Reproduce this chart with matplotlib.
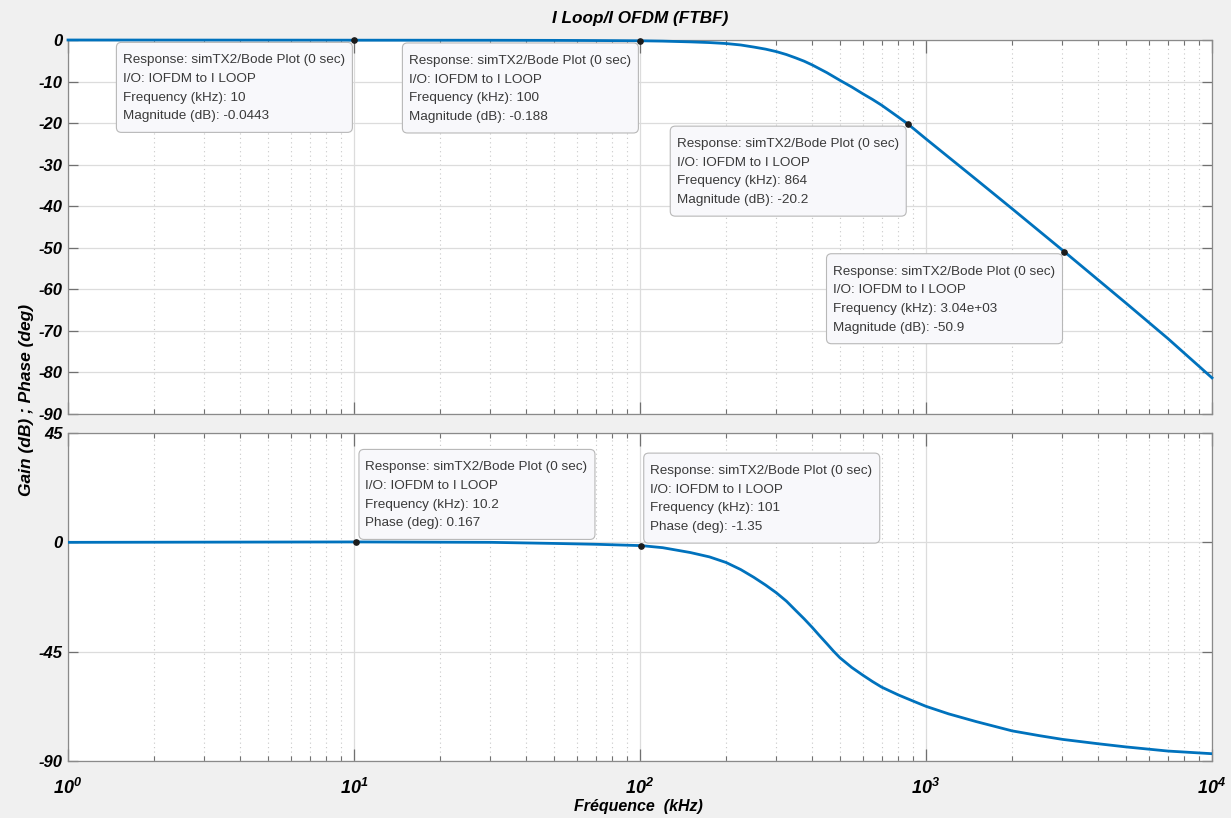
import matplotlib
matplotlib.use('Agg')
import matplotlib.pyplot as plt
import matplotlib.transforms as mtransforms
from matplotlib.patches import FancyBboxPatch
from matplotlib.ticker import LogLocator, NullFormatter, FixedLocator

plt.rcParams['font.family'] = ['Liberation Sans', 'DejaVu Sans']
plt.rcParams['mathtext.fontset'] = 'custom'
plt.rcParams['mathtext.rm'] = 'Liberation Sans:bold:italic'
plt.rcParams['mathtext.it'] = 'Liberation Sans:bold:italic'
plt.rcParams['mathtext.bf'] = 'Liberation Sans:bold:italic'

# magnitude curve (kHz, dB)
freq_mag = [1, 10, 30, 50, 70, 100, 120, 150, 175, 200, 225, 250, 275, 300, 325,
            350, 375, 400, 450, 500, 550, 600, 650, 700, 780, 864, 1000, 1500,
            2000, 3040, 5000, 7000, 10000]
mag_db = [0, -0.044, -0.06, -0.09, -0.13, -0.19, -0.27, -0.45, -0.62, -0.85,
          -1.2, -1.7, -2.2, -2.8, -3.5, -4.3, -5.1, -6.0, -7.85, -9.7, -11.3,
          -12.9, -14.3, -15.7, -18.0, -20.2, -23.8, -33.6, -40.6, -50.9, -63.3,
          -71.8, -81.3]

# phase curve (kHz, deg)
freq_ph = [1, 10.2, 30, 50, 70, 101, 120, 150, 175, 200, 225, 250, 275, 300,
           325, 350, 375, 400, 425, 450, 475, 500, 550, 600, 650, 700, 800, 900,
           1000, 1200, 1500, 2000, 2500, 3000, 4000, 5000, 7000, 10000]
phase_deg = [0, 0.167, 0.0, -0.45, -0.8, -1.35, -2.2, -4.2, -6.0, -8.3, -11.2,
             -14.4, -17.6, -20.8, -24.2, -28, -31.5, -35, -38.5, -41.7, -44.8,
             -47.5, -51.5, -54.6, -57.3, -59.6, -62.8, -65.3, -67.5, -70.6, -73.8,
             -77.6, -79.6, -81.1, -82.9, -84.2, -85.9, -87.0]

# data tips
mag_tip_f = [10, 100, 864, 3040]
mag_tip_db = [-0.0443, -0.188, -20.2, -50.9]
ph_tip_f = [10.2, 101]
ph_tip_deg = [0.167, -1.35]

mag_yticks = [0, -10, -20, -30, -40, -50, -60, -70, -80, -90]
ph_yticks = [45, 0, -45, -90]
xticks = [1, 10, 100, 1000, 10000]
xticklabels = [r'$10^{0}$', r'$10^{1}$', r'$10^{2}$', r'$10^{3}$', r'$10^{4}$']

blue = '#0072BD'
W, H = 1231, 818
fig = plt.figure(figsize=(W / 100, H / 100), dpi=100, facecolor='#f0f0f0')


def px_axes(left, top, right, bottom):
    return fig.add_axes([left / W, 1 - bottom / H, (right - left) / W, (bottom - top) / H])


ax1 = px_axes(68, 40, 1212, 414)
ax2 = px_axes(68, 433, 1212, 761)

tick_font = dict(fontsize=12, fontweight='bold', fontstyle='italic')

for ax in (ax1, ax2):
    ax.set_xscale('log')
    ax.set_xlim(1, 10000)
    ax.xaxis.set_major_locator(FixedLocator(xticks))
    ax.xaxis.set_minor_locator(LogLocator(base=10, subs=range(2, 10)))
    ax.xaxis.set_minor_formatter(NullFormatter())
    ax.grid(True, which='major', color='#dcdcdc', lw=0.9, ls='-')
    ax.grid(True, which='minor', axis='x', color='#c8c8c8', lw=0.8, ls=(0, (1, 3)))
    ax.set_axisbelow(True)
    ax.tick_params(which='both', direction='in', top=True, right=True, color='#707070')
    ax.tick_params(axis='x', which='major', length=9, width=0.9)
    ax.tick_params(axis='x', which='minor', length=3.5, width=0.8)
    ax.tick_params(axis='y', which='major', length=7.5, width=0.9, pad=4)
    for s in ax.spines.values():
        s.set_color('#8a8a8a')
        s.set_linewidth(0.9)

ax1.plot(freq_mag, mag_db, color=blue, lw=2.0, clip_on=False, zorder=3)
ax1.set_ylim(-90, 0)
ax1.set_yticks(mag_yticks)
ax1.set_yticklabels([str(v) for v in mag_yticks], **tick_font)
ax1.tick_params(axis='x', labelbottom=False)

ax2.plot(freq_ph, phase_deg, color=blue, lw=2.0, zorder=3)
ax2.set_ylim(-90, 45)
ax2.set_yticks(ph_yticks)
ax2.set_yticklabels([str(v) for v in ph_yticks], **tick_font)
ax2.set_xticklabels(xticklabels, fontsize=13)
ax2.tick_params(axis='x', which='major', pad=12)

# data tip boxes, sized in pixels around the marked point
BOX_W, BOX_H = 236, 90


def tip(ax, x, y, lines, corner, gap):
    # units = pixels / 100 (inches), origin at the data point
    trans = fig.dpi_scale_trans + mtransforms.ScaledTranslation(x, y, ax.transData)
    gx, gy = gap
    if corner == 'lower left':
        x0, y0 = -gx - BOX_W, -gy - BOX_H
    else:  # upper right
        x0, y0 = gx, gy
    box = FancyBboxPatch((x0 / 100, y0 / 100), BOX_W / 100, BOX_H / 100,
                         boxstyle='round,pad=0,rounding_size=0.05',
                         fc='#f8f8fb', ec='#b8b8b8', lw=0.8, transform=trans,
                         zorder=6, clip_on=False)
    ax.add_patch(box)
    top = y0 + BOX_H
    for i, line in enumerate(lines):
        ax.text((x0 + 6.5) / 100, (top - 18 - 18.6 * i) / 100, line, transform=trans,
                ha='left', va='center', fontsize=9.7, color='#3a3a3a', zorder=7,
                clip_on=False)
    ax.plot([x], [y], 'o', color='#1c1c1c', ms=3.8, zorder=8, clip_on=False)


for f, m in zip(mag_tip_f, mag_tip_db):
    tip(ax1, f, m, ['Response: simTX2/Bode Plot (0 sec)', 'I/O: IOFDM to I LOOP',
                    'Frequency (kHz): %.3g' % f, 'Magnitude (dB): %.3g' % m],
        'lower left', (1.6, 2.2))

for f, p in zip(ph_tip_f, ph_tip_deg):
    tip(ax2, f, p, ['Response: simTX2/Bode Plot (0 sec)', 'I/O: IOFDM to I LOOP',
                    'Frequency (kHz): %.3g' % f, 'Phase (deg): %.3g' % p],
        'upper right', (2.5, 2.5))

fig.text(640 / W, 1 - 18 / H, 'I Loop/I OFDM (FTBF)', ha='center', va='center',
         fontsize=12.3, fontweight='bold', fontstyle='italic')
fig.text(638 / W, 1 - 806 / H, 'Fréquence  (kHz)', ha='center', va='center',
         fontsize=11.5, fontweight='bold', fontstyle='italic')
fig.text(27 / W, 1 - 400 / H, 'Gain (dB) ; Phase (deg)', ha='center', va='center',
         rotation=90, fontsize=12.5, fontweight='bold', fontstyle='italic')

fig.savefig('out.png', dpi=100, facecolor=fig.get_facecolor())
